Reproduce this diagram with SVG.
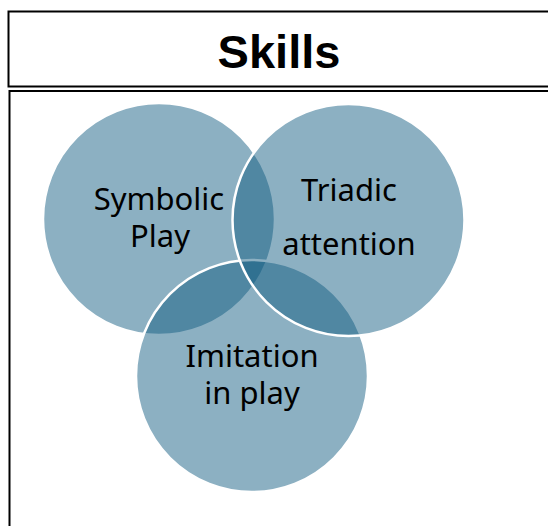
<svg xmlns="http://www.w3.org/2000/svg" width="548" height="526" viewBox="0 0 548 526">
<style>
.frame{fill:#fff;stroke:#000;stroke-width:2}
.c{fill:rgb(15,89,127);fill-opacity:0.48;stroke:#fff;stroke-width:2.5}
.t{font-family:"Noto Sans","Open Sans",sans-serif;font-size:31px;fill:#000;text-anchor:middle}
.h{font-family:"Liberation Sans",Arial,sans-serif;font-size:47px;font-weight:bold;fill:#000;text-anchor:middle}
</style>
<rect width="548" height="526" fill="#fff"/>
<g id="title">
<rect class="frame" x="8.5" y="11.5" width="560" height="75"/>
<text class="h" x="279" y="68">Skills</text>
</g>
<g id="panel">
<rect class="frame" x="9.5" y="91" width="560" height="460"/>
</g>
<g id="symbolic-play">
<circle class="c" cx="159" cy="219" r="116"/>
</g>
<g id="imitation-in-play">
<circle class="c" cx="252" cy="376" r="116"/>
</g>
<g id="triadic-attention">
<circle class="c" cx="348.5" cy="220" r="116"/>
</g>
<g id="labels">
<text class="t" x="159" y="210">Symbolic</text>
<text class="t" x="160" y="247">Play</text>
<text class="t" x="349" y="201">Triadic</text>
<text class="t" x="349" y="255">attention</text>
<text class="t" x="252" y="367">Imitation</text>
<text class="t" x="252" y="404">in play</text>
</g>
</svg>
